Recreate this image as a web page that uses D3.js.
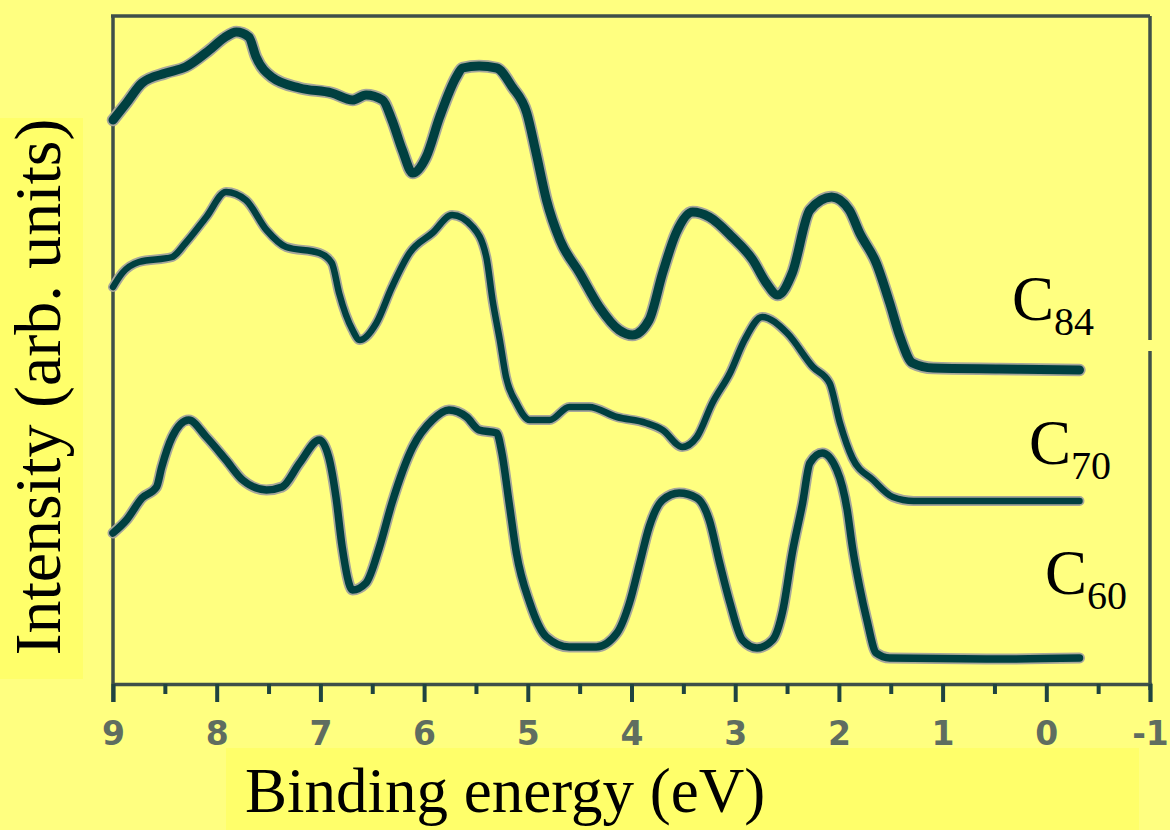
<!DOCTYPE html>
<html>
<head>
<meta charset="utf-8">
<script src="https://cdn.jsdelivr.net/npm/d3@7"></script>
<style>
  html, body { margin: 0; padding: 0; background: #FFFF80; }
  svg { display: block; }
</style>
</head>
<body>
<svg id="chart" width="1170" height="830"></svg>
<script>
// ---- Data (binding energy in eV, intensity in arb. units) ----
const c84Energy = [9.00, 8.87, 8.72, 8.49, 8.30, 8.07, 7.93, 7.81, 7.69, 7.62, 7.47, 7.20, 6.89, 6.69, 6.56, 6.40, 6.31, 6.21, 6.11, 5.98, 5.85, 5.69, 5.63, 5.47, 5.30, 5.15, 5.01, 4.92, 4.82, 4.69, 4.50, 4.31, 4.12, 3.99, 3.83, 3.70, 3.57, 3.41, 3.25, 3.03, 2.83, 2.70, 2.59, 2.45, 2.28, 2.07, 1.90, 1.80, 1.64, 1.51, 1.41, 1.29, 1.09, 0.45, -0.32];
const c84Values = [56.5, 58.2, 60.2, 61.2, 61.8, 63.5, 64.7, 65.3, 64.8, 62.8, 60.8, 59.7, 59.2, 58.5, 59.0, 58.5, 56.5, 53.5, 51.2, 52.8, 56.8, 60.8, 61.7, 61.9, 61.7, 59.8, 57.2, 53.2, 48.5, 44.5, 41.2, 37.8, 35.5, 35.0, 36.5, 41.2, 45.2, 47.3, 46.8, 44.8, 42.5, 40.2, 39.0, 41.2, 47.5, 48.8, 47.5, 45.2, 42.2, 38.2, 34.8, 32.2, 31.7, 31.6, 31.5];

const c70Energy = [9.00, 8.91, 8.75, 8.43, 8.30, 8.10, 7.91, 7.72, 7.52, 7.33, 7.01, 6.89, 6.82, 6.69, 6.62, 6.46, 6.31, 6.14, 5.92, 5.73, 5.53, 5.40, 5.34, 5.27, 5.21, 5.11, 4.98, 4.79, 4.60, 4.41, 4.14, 3.86, 3.70, 3.51, 3.37, 3.22, 3.05, 2.91, 2.74, 2.50, 2.25, 2.09, 1.99, 1.87, 1.67, 1.48, 1.28, 0.45, -0.32];
const c70Values = [39.8, 41.2, 42.3, 42.8, 44.2, 46.8, 49.3, 48.5, 45.5, 43.8, 43.2, 42.2, 39.2, 35.5, 34.5, 36.2, 39.8, 43.2, 45.2, 47.0, 45.8, 42.8, 38.5, 34.5, 30.8, 28.2, 26.5, 26.5, 27.8, 27.8, 26.8, 26.2, 25.5, 23.8, 24.8, 28.2, 31.2, 34.5, 36.8, 35.2, 31.8, 30.2, 26.2, 22.7, 20.5, 18.8, 18.4, 18.4, 18.4];

const c60Energy = [9.00, 8.87, 8.72, 8.58, 8.53, 8.43, 8.27, 8.10, 7.91, 7.75, 7.52, 7.37, 7.20, 7.01, 6.92, 6.85, 6.79, 6.69, 6.56, 6.43, 6.31, 6.11, 5.92, 5.76, 5.59, 5.47, 5.30, 5.25, 5.18, 5.11, 4.98, 4.82, 4.60, 4.34, 4.14, 4.02, 3.92, 3.83, 3.70, 3.54, 3.37, 3.25, 3.15, 3.05, 2.93, 2.79, 2.64, 2.54, 2.45, 2.35, 2.28, 2.16, 2.02, 1.92, 1.87, 1.80, 1.73, 1.64, 1.51, 0.45, -0.32];
const c60Values = [15.2, 16.5, 18.7, 19.8, 21.8, 24.8, 26.5, 24.8, 22.5, 20.5, 19.5, 19.8, 22.2, 24.5, 22.8, 18.8, 13.8, 9.5, 10.2, 13.8, 18.2, 23.8, 26.5, 27.5, 26.8, 25.5, 25.2, 23.2, 18.2, 13.2, 8.2, 4.8, 3.8, 3.8, 5.2, 8.2, 12.2, 15.8, 18.5, 19.2, 18.7, 16.5, 12.2, 8.2, 4.5, 3.7, 4.5, 7.5, 13.2, 18.2, 22.2, 23.2, 21.5, 17.5, 13.8, 9.8, 6.5, 3.2, 2.7, 2.6, 2.7];

const majorTicks = [9, 8, 7, 6, 5, 4, 3, 2, 1, 0, -1];
const minorTicks = [8.5, 7.5, 6.5, 5.5, 4.5, 3.5, 2.5, 1.5, 0.5, -0.5];
const seriesNames = ["84", "70", "60"];
const xTitle = "Binding energy (eV)";
const yTitle = "Intensity (arb. units)";

// ---- Layout ----
const svg = d3.select("#chart");
const plotLeft = 113, plotRight = 1150, plotTop = 16, plotBottom = 684;
const ink = "#004040";

const x = d3.scaleLinear().domain([9, -1]).range([plotLeft, plotRight]);
const y = d3.scaleLinear().domain([0, 67]).range([685, 15]);

// background
svg.append("rect").attr("width", 1170).attr("height", 830).attr("fill", "#FFFF80");
// title highlight boxes
svg.append("rect").attr("x", 0).attr("y", 118).attr("width", 83).attr("height", 561).attr("fill", "#FFFF6A");
svg.append("rect").attr("x", 226).attr("y", 748).attr("width", 913).attr("height", 82).attr("fill", "#FFFF6A");

// frame
const frame = svg.append("g").attr("stroke", "#3f5049").attr("stroke-width", 3.5).attr("fill", "none");
frame.append("line").attr("x1", plotLeft - 2).attr("y1", plotTop).attr("x2", plotRight).attr("y2", plotTop);
frame.append("line").attr("x1", plotLeft).attr("y1", plotTop).attr("x2", plotLeft).attr("y2", plotBottom + 18);
frame.append("line").attr("x1", plotRight).attr("y1", plotTop).attr("x2", plotRight).attr("y2", 340);
frame.append("line").attr("x1", plotRight).attr("y1", 351).attr("x2", plotRight).attr("y2", plotBottom + 6);

// x axis
const axisG = svg.append("g").attr("transform", `translate(0,${plotBottom})`);
axisG.call(d3.axisBottom(x).tickValues(majorTicks).tickSize(18).tickPadding(20)
  .tickFormat(d => String(d)));
axisG.select(".domain").attr("stroke", "#3f5049").attr("stroke-width", 3.5);
axisG.selectAll(".tick line").attr("stroke", "#1f4440").attr("stroke-width", 4);
axisG.selectAll(".tick text")
  .attr("font-family", "'DejaVu Sans', sans-serif")
  .attr("font-size", 33)
  .attr("font-weight", "bold")
  .attr("fill", "#5f6d60");
const minorG = svg.append("g").attr("transform", `translate(0,${plotBottom})`);
minorG.call(d3.axisBottom(x).tickValues(minorTicks).tickSize(10).tickFormat(""));
minorG.select(".domain").remove();
minorG.selectAll(".tick line").attr("stroke", "#1f4440").attr("stroke-width", 4);

// curves
const line = d3.line().curve(d3.curveMonotoneX).x(d => x(d[0])).y(d => y(d[1]));
const series = [
  { e: c84Energy, v: c84Values, w: 9 },
  { e: c70Energy, v: c70Values, w: 6.5 },
  { e: c60Energy, v: c60Values, w: 7.5 }
];
series.forEach(s => {
  const pts = s.e.map((e, i) => [e, s.v[i]]);
  svg.append("path").datum(pts).attr("d", line).attr("fill", "none")
    .attr("stroke", "#a7a79a").attr("stroke-width", s.w + 3.5)
    .attr("stroke-linejoin", "round").attr("stroke-linecap", "round");
  svg.append("path").datum(pts).attr("d", line).attr("fill", "none")
    .attr("stroke", ink).attr("stroke-width", s.w)
    .attr("stroke-linejoin", "round").attr("stroke-linecap", "round");
});

// series labels
const labelPos = [
  { x: 1012, y: 320 },
  { x: 1029, y: 464 },
  { x: 1045, y: 594 }
];
seriesNames.forEach((n, i) => {
  const t = svg.append("text").attr("x", labelPos[i].x).attr("y", labelPos[i].y)
    .attr("font-family", "'Liberation Serif', 'Times New Roman', serif")
    .attr("fill", "#000");
  t.append("tspan").attr("font-size", 63).text("C");
  t.append("tspan").attr("font-size", 40).attr("dy", 15).text(n);
});

// axis titles
svg.append("text")
  .attr("transform", "translate(60,387) rotate(-90)")
  .attr("text-anchor", "middle")
  .attr("font-family", "'Liberation Serif', 'Times New Roman', serif")
  .attr("font-size", 66).attr("fill", "#000")
  .text(yTitle);
svg.append("text")
  .attr("x", 245).attr("y", 812)
  .attr("font-family", "'Liberation Serif', 'Times New Roman', serif")
  .attr("font-size", 63).attr("fill", "#000")
  .text(xTitle);
</script>
</body>
</html>
